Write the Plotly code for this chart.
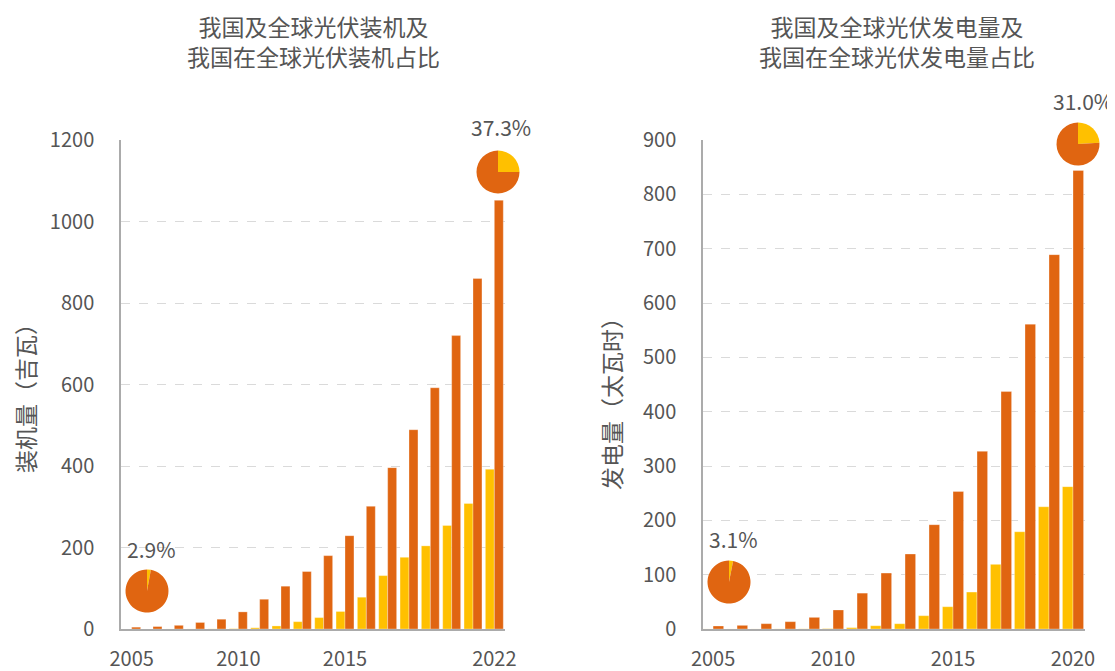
import plotly.graph_objects as go

# page offset of the plot div (body margin)
OFF = 8
W, H = 1115 - OFF, 671 - OFF

# 装机量（吉瓦），2005-2022
cap_years = list(range(2005, 2023))
cap_china = [0.07, 0.08, 0.1, 0.14, 0.3, 0.8, 3, 7.5, 18, 28, 43, 78,
             131, 176, 204, 254, 308, 392]
cap_world = [4.5, 6, 9, 16, 24, 42, 73, 105, 141, 180, 229, 301,
             396, 489, 592, 720, 860, 1052]

# 发电量（太瓦时），2005-2020
gen_years = list(range(2005, 2021))
gen_china = [0.08, 0.1, 0.1, 0.2, 0.3, 0.7, 2.5, 6, 9.7, 24.5, 41, 68,
             119, 179, 225, 262]
gen_world = [5.5, 6.7, 9.8, 13.5, 21.4, 35, 66, 103, 138, 192, 253, 327,
             437, 561, 689, 844]

# 占比饼图（读图所得）
cap_pie_start, cap_pie_end = 2.9, 25
gen_pie_start, gen_pie_end = 3.1, 24
cap_label_start, cap_label_end = "2.9%", "37.3%"
gen_label_start, gen_label_end = "3.1%", "31.0%"

YELLOW = "#FFC000"
ORANGE = "#E06511"
TEXT = "#555555"
FONT = "Noto Sans CJK SC"


def px_x(x):
    return (x - OFF) / W


def px_y(y):
    return 1 - (y - OFF) / H


def pie_domain(cx, cy, r):
    return dict(x=[px_x(cx - r), px_x(cx + r)], y=[px_y(cy + r), px_y(cy - r)])


fig = go.Figure()

# Bars
for xa, ya, years, china, world, w in [
    ("x", "y", cap_years, cap_china, cap_world, 0.42),
    ("x2", "y2", gen_years, gen_china, gen_world, 0.44),
]:
    fig.add_trace(go.Bar(
        x=years, y=china, xaxis=xa, yaxis=ya,
        width=w, offset=-w,
        marker=dict(color=YELLOW, line=dict(color="rgba(255,255,255,0.5)", width=0.6)),
        showlegend=False,
    ))
    fig.add_trace(go.Bar(
        x=years, y=world, xaxis=xa, yaxis=ya,
        width=w, offset=0,
        marker=dict(color=ORANGE, line=dict(color="rgba(255,255,255,0.5)", width=0.6)),
        showlegend=False,
    ))

# Pies
for share, (cx, cy) in [
    (cap_pie_start, (147, 591)),
    (cap_pie_end, (498, 172)),
    (gen_pie_start, (729, 582)),
    (gen_pie_end, (1078, 144)),
]:
    fig.add_trace(go.Pie(
        values=[share, 100 - share],
        marker=dict(colors=[YELLOW, ORANGE]),
        direction="clockwise",
        sort=False,
        textinfo="none",
        hoverinfo="skip",
        domain=pie_domain(cx, cy, 21.5),
        showlegend=False,
    ))

axis_common = dict(
    showline=True,
    linecolor="#ABABAB",
    linewidth=1.5,
    tickfont=dict(family=FONT, size=20, color=TEXT),
    zeroline=False,
    automargin=False,
)

fig.update_layout(
    width=W, height=H,
    margin=dict(l=0, r=0, t=0, b=0, pad=0, autoexpand=False),
    paper_bgcolor="white",
    plot_bgcolor="white",
    barmode="overlay",
    font=dict(family=FONT, color=TEXT),
    xaxis=dict(
        domain=[px_x(121), px_x(505)],
        range=[2004.5, 2022.5],
        tickvals=[2005, 2010, 2015, 2022],
        showgrid=False,
        ticks="outside", ticklen=11, tickcolor="rgba(0,0,0,0)",
        anchor="y",
        **axis_common,
    ),
    yaxis=dict(
        domain=[px_y(629), px_y(140)],
        range=[0, 1200],
        tickvals=[0, 200, 400, 600, 800, 1000, 1200],
        showgrid=True,
        gridcolor="#DADADA",
        griddash="dash",
        gridwidth=1,
        ticks="outside", ticklen=21, tickcolor="rgba(0,0,0,0)",
        anchor="x",
        **axis_common,
    ),
    xaxis2=dict(
        domain=[px_x(703), px_x(1085)],
        range=[2004.58, 2020.5],
        tickvals=[2005, 2010, 2015, 2020],
        showgrid=False,
        ticks="outside", ticklen=11, tickcolor="rgba(0,0,0,0)",
        anchor="y2",
        **axis_common,
    ),
    yaxis2=dict(
        domain=[px_y(629), px_y(140)],
        range=[0, 900],
        tickvals=list(range(0, 1000, 100)),
        showgrid=True,
        gridcolor="#DADADA",
        griddash="dash",
        gridwidth=1,
        ticks="outside", ticklen=21, tickcolor="rgba(0,0,0,0)",
        anchor="x2",
        **axis_common,
    ),
)

# Titles, axis titles, share labels
texts = [
    ("我国及全球光伏装机及<br>我国在全球光伏装机占比", 313, 41, 23, 0),
    ("我国及全球光伏发电量及<br>我国在全球光伏发电量占比", 897, 41, 23, 0),
    ("装机量（吉瓦）", 25, 393, 23, -90),
    ("发电量（太瓦时）", 611, 398, 23, -90),
    (cap_label_start, 151, 549, 21, 0),
    (cap_label_end, 501, 127, 21, 0),
    (gen_label_start, 733, 539, 21, 0),
    (gen_label_end, 1083, 101, 21, 0),
]
for txt, x, y, size, angle in texts:
    fig.add_annotation(
        text=txt, x=px_x(x), y=px_y(y),
        xref="paper", yref="paper",
        xanchor="center", yanchor="middle",
        showarrow=False, textangle=angle,
        font=dict(family=FONT, size=size, color=TEXT),
    )

fig.write_html("out.html")
